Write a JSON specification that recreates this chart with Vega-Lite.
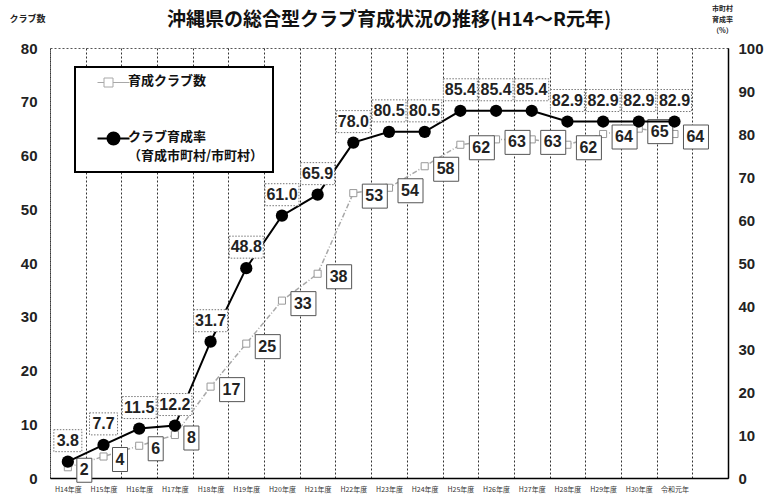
{
  "$schema": "https://vega.github.io/schema/vega-lite/v6.json",
  "width": 678,
  "height": 430,
  "autosize": {"type": "none"},
  "padding": {"left": 50, "top": 48, "right": 40, "bottom": 21},
  "background": "white",
  "title": {
    "text": "沖縄県の総合型クラブ育成状況の推移(H14～R元年)",
    "anchor": "middle",
    "offset": -26,
    "fontSize": 19,
    "font": "Noto Sans CJK JP",
    "fontWeight": "bold",
    "color": "#111"
  },
  "config": {
    "view": {"stroke": "#555", "strokeDash": [2, 2], "strokeWidth": 1},
    "font": "Liberation Sans"
  },
  "data": {
    "values": [
      {"year": "H14年度", "clubs": 2, "rate": 3.8},
      {"year": "H15年度", "clubs": 4, "rate": 7.7},
      {"year": "H16年度", "clubs": 6, "rate": 11.5},
      {"year": "H17年度", "clubs": 8, "rate": 12.2},
      {"year": "H18年度", "clubs": 17, "rate": 31.7},
      {"year": "H19年度", "clubs": 25, "rate": 48.8},
      {"year": "H20年度", "clubs": 33, "rate": 61.0},
      {"year": "H21年度", "clubs": 38, "rate": 65.9},
      {"year": "H22年度", "clubs": 53, "rate": 78.0},
      {"year": "H23年度", "clubs": 54, "rate": 80.5},
      {"year": "H24年度", "clubs": 58, "rate": 80.5},
      {"year": "H25年度", "clubs": 62, "rate": 85.4},
      {"year": "H26年度", "clubs": 63, "rate": 85.4},
      {"year": "H27年度", "clubs": 63, "rate": 85.4},
      {"year": "H28年度", "clubs": 62, "rate": 82.9},
      {"year": "H29年度", "clubs": 64, "rate": 82.9},
      {"year": "H30年度", "clubs": 65, "rate": 82.9},
      {"year": "令和元年", "clubs": 64, "rate": 82.9}
    ]
  },
  "encoding": {
    "x": {
      "field": "year",
      "type": "nominal",
      "sort": null,
      "scale": {
        "type": "band",
        "domain": ["H14年度", "H15年度", "H16年度", "H17年度", "H18年度", "H19年度", "H20年度", "H21年度", "H22年度", "H23年度", "H24年度", "H25年度", "H26年度", "H27年度", "H28年度", "H29年度", "H30年度", "令和元年", " "],
        "paddingInner": 0,
        "paddingOuter": 0
      },
      "axis": {
        "title": null,
        "labelAngle": 0,
        "labelFontSize": 7,
        "labelFont": "Noto Sans CJK JP",
        "labelColor": "#333",
        "ticks": false,
        "labelPadding": 7,
        "grid": true,
        "tickBand": "extent",
        "gridDash": [2, 2],
        "gridColor": "#333",
        "gridWidth": 1,
        "domainColor": "#000",
        "domainWidth": 1.5
      }
    }
  },
  "layer": [
    {
      "encoding": {
        "y": {
          "field": "clubs",
          "type": "quantitative",
          "scale": {"domain": [0, 80], "nice": false},
          "axis": {
            "orient": "left",
            "values": [0, 10, 20, 30, 40, 50, 60, 70, 80],
            "title": "クラブ数",
            "titleAngle": 0,
            "titleX": -23,
            "titleY": -30,
            "titleAlign": "center",
            "titleBaseline": "middle",
            "titleFontSize": 9,
            "titleFont": "Noto Sans CJK JP",
            "titleFontWeight": "bold",
            "titleColor": "#222",
            "labelFontSize": 15,
            "labelFontWeight": "bold",
            "labelColor": "#222",
            "labelPadding": 13,
            "domain": false,
            "ticks": false,
            "grid": false
          }
        }
      },
      "layer": [
        {
          "mark": {"type": "line", "strokeWidth": 1.5, "strokeDash": [5, 2, 1, 2]},
          "encoding": {
            "color": {
              "datum": "育成クラブ数",
              "type": "nominal",
              "scale": {"domain": ["育成クラブ数", "クラブ育成率"], "range": ["#a8a8a8", "#000000"]},
              "legend": {
                "title": null,
                "orient": "none",
                "legendX": 25,
                "legendY": 19,
                "padding": 9,
                "strokeColor": "#000",
                "fillColor": "white",
                "symbolSize": 400,
                "labelFont": "Noto Sans CJK JP",
                "labelFontSize": 13,
                "labelFontWeight": "bold",
                "labelColor": "#111",
                "labelOffset": 31,
                "rowPadding": 39,
                "labelBaseline": "top",
                "labelLimit": 300,
                "labelExpr": "datum.label == 'クラブ育成率' ? ['クラブ育成率', '（育成市町村/市町村）'] : datum.label",
                "encode": {
                  "legend": {"update": {"strokeWidth": {"value": 2}}},
                  "symbols": {
                    "update": {
                      "shape": {"signal": "datum.value === '育成クラブ数' ? 'M0.7,0H1.35M2.25,0H3.9M1.35,-0.45H2.25V0.45H1.35Z' : 'M0.7,0H3.9M2.9,0A0.6,0.6 0 1,1 1.7,0A0.6,0.6 0 1,1 2.9,0Z'"},
                      "fill": {"signal": "datum.value === '育成クラブ数' ? 'white' : 'black'"},
                      "stroke": {"signal": "datum.value === '育成クラブ数' ? '#999' : 'black'"},
                      "strokeWidth": {"signal": "datum.value === '育成クラブ数' ? 1 : 2"},
                      "strokeDash": {"value": []},
                      "opacity": {"value": 1}
                    }
                  },
                  "labels": {"update": {"dy": {"value": -8}, "lineHeight": {"value": 19}}}
                }
              }
            }
          }
        },
        {
          "mark": {"type": "point", "shape": "square", "filled": true, "fill": "white", "stroke": "#999", "strokeWidth": 1, "size": 50, "opacity": 1}
        },
        {
          "mark": {"type": "point", "filled": true, "fill": "white", "stroke": "#555", "strokeWidth": 1, "size": 400, "opacity": 1},
          "encoding": {
            "shape": {
              "condition": {"test": "datum.clubs < 10", "value": "M0.9,-0.9H2.4V1.5H0.9Z"},
              "value": "M0.9,-0.9H3.4V1.5H0.9Z"
            }
          }
        },
        {
          "mark": {"type": "text", "align": "left", "baseline": "middle", "dx": 12, "dy": 3, "fontSize": 16, "fontWeight": "bold", "color": "#222"},
          "encoding": {"text": {"field": "clubs", "type": "quantitative"}}
        }
      ]
    },
    {
      "encoding": {
        "y": {
          "field": "rate",
          "type": "quantitative",
          "scale": {"domain": [0, 100], "nice": false},
          "axis": {
            "orient": "right",
            "values": [0, 10, 20, 30, 40, 50, 60, 70, 80, 90, 100],
            "title": ["市町村", "育成率", "（%）"],
            "titleAngle": 0,
            "titleX": -6,
            "titleY": -44,
            "titleAlign": "center",
            "titleBaseline": "top",
            "titleFontSize": 7,
            "titleLineHeight": 11,
            "titleFont": "Noto Sans CJK JP",
            "titleFontWeight": "bold",
            "titleColor": "#222",
            "labelFontSize": 15,
            "labelFontWeight": "bold",
            "labelColor": "#222",
            "labelPadding": 10,
            "domain": true,
            "domainColor": "#000",
            "domainWidth": 1.5,
            "ticks": false,
            "grid": false
          }
        }
      },
      "layer": [
        {
          "mark": {"type": "line", "strokeWidth": 2},
          "encoding": {"color": {"datum": "クラブ育成率", "type": "nominal"}}
        },
        {
          "mark": {"type": "point", "filled": true, "fill": "white", "stroke": "#777", "strokeWidth": 1, "strokeDash": [1.5, 1.5], "size": 400, "opacity": 1},
          "encoding": {
            "shape": {
              "condition": {"test": "datum.rate < 10", "value": "M-1.4,-3.2H1.4V-1.0H-1.4Z"},
              "value": "M-1.7,-3.2H1.7V-1.0H-1.7Z"
            }
          }
        },
        {
          "mark": {"type": "point", "shape": "circle", "filled": true, "color": "#000", "size": 150, "opacity": 1}
        },
        {
          "mark": {"type": "text", "align": "center", "baseline": "middle", "dy": -21, "fontSize": 16, "fontWeight": "bold", "color": "#222"},
          "encoding": {"text": {"field": "rate", "type": "quantitative", "format": ".1f"}}
        }
      ]
    }
  ],
  "resolve": {"scale": {"y": "independent"}}
}
